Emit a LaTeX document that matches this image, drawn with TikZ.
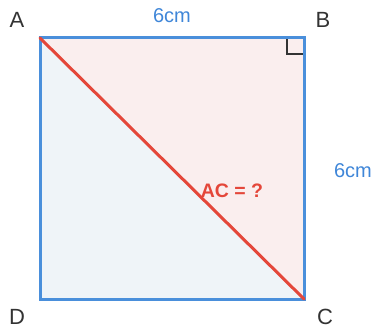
\documentclass[tikz,border=0pt]{standalone}
\usepackage{fontspec}
\setmainfont{Liberation Sans}
\usetikzlibrary{positioning}
\definecolor{edgeblue}{HTML}{4A8FDB}
\definecolor{textblue}{HTML}{3F86D8}
\definecolor{diagred}{HTML}{E4473A}
\definecolor{pinkfill}{HTML}{FAEEEE}
\definecolor{bluefill}{HTML}{EFF4F8}
\definecolor{labelgray}{HTML}{333333}

\begin{document}
\begin{tikzpicture}[x=1pt,y=-1pt]
\tikzset{
  vertexlabel/.style={text=labelgray,inner sep=0pt,font=\fontsize{22}{25}\selectfont},
  sidelabel/.style={text=textblue,inner sep=0pt,font=\fontsize{20}{23}\selectfont},
  asklabel/.style={text=diagred,inner sep=0pt,font=\bfseries\fontsize{19.5}{22}\selectfont},
  squareside/.style={edgeblue,line width=3pt,line join=miter},
  diagonal/.style={diagred,line width=3pt,line cap=round},
  rightmark/.style={labelgray,line width=1.6pt}
}
\useasboundingbox (0,0) rectangle (373,329);
\coordinate (c_A) at (40,38);
\coordinate (c_B) at (304,38);
\coordinate (c_C) at (304,299);
\coordinate (c_D) at (40,299);
\node[vertexlabel] (l_A) at (17,20) {A};
\node[vertexlabel] (l_B) at (323,20) {B};
\node[vertexlabel] (l_C) at (325,317) {C};
\node[vertexlabel] (l_D) at (17,317) {D};
\node[sidelabel] (s_top) at (172,16) {6cm};
\node[sidelabel] (s_right) at (353,171) {6cm};
\fill[pinkfill] (c_A) -- (c_B) -- (c_C) -- cycle;
\fill[bluefill] (c_A) -- (c_D) -- (c_C) -- cycle;
\draw[squareside] (c_A) -- (c_B) -- (c_C) -- (c_D) -- cycle;
\draw[rightmark] (287,39.5) -- (287,54) -- (302.5,54);
\draw[diagonal] (c_A) -- (c_C);
\node[asklabel] (q_AC) at (232,191) {AC = ?};
\end{tikzpicture}
\end{document}
